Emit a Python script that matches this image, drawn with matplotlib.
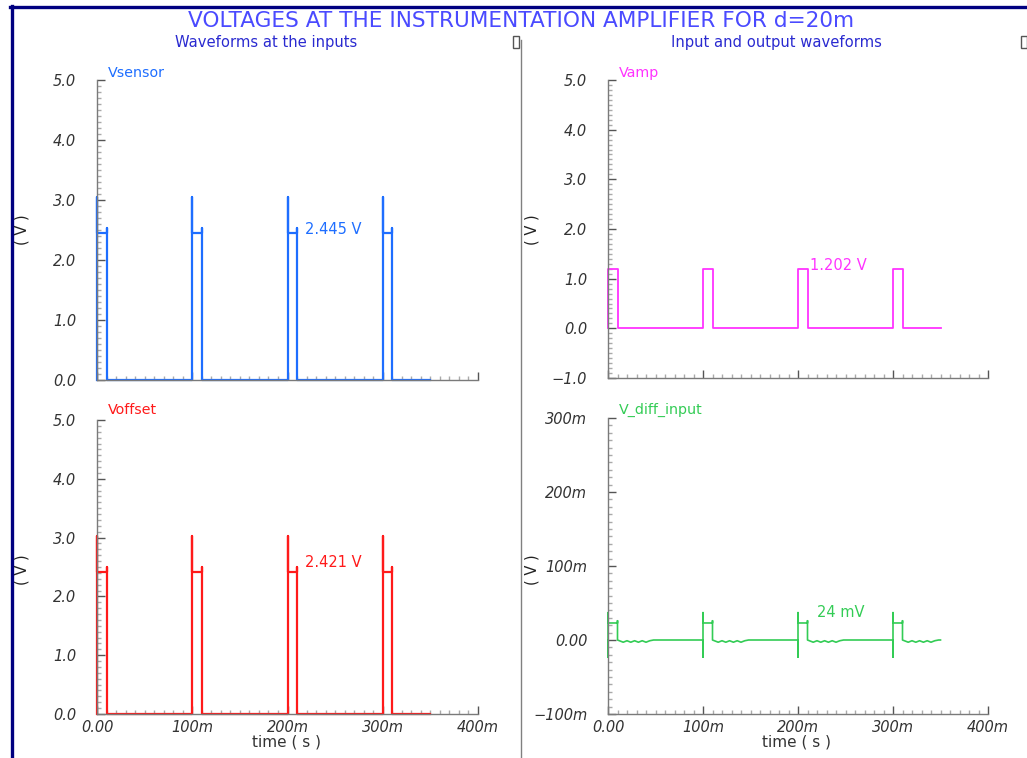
import matplotlib
matplotlib.use('Agg')
import matplotlib.pyplot as plt
from matplotlib.ticker import MultipleLocator, FixedLocator, FixedFormatter
from matplotlib.patches import Rectangle
from matplotlib.lines import Line2D

W, H = 1027, 758

# ---------------- data ----------------
pulse_starts = [0.0, 0.1, 0.2, 0.3]
pulse_width = 0.01
t_end = 0.35

vsensor_spike, vsensor_plateau, vsensor_end_spike = 3.05, 2.445, 2.53
voffset_spike, voffset_plateau, voffset_end_spike = 3.02, 2.421, 2.50
vamp_plateau = 1.202
vdiff_spike_lo, vdiff_spike_hi = -0.023, 0.037
vdiff_plateau, vdiff_end_bump = 0.023, 0.026
ripple_offsets = [0.012, 0.016, 0.020, 0.024, 0.028, 0.032, 0.036, 0.040, 0.044, 0.048]
ripple_values = [-0.001, -0.003, -0.001, -0.003, -0.001, -0.003, -0.001, -0.003, -0.001, 0.0]

x_ticks = [0.0, 0.1, 0.2, 0.3, 0.4]
x_tick_labels = ["0.00", "100m", "200m", "300m", "400m"]
v_ticks = [0, 1, 2, 3, 4, 5]
v_tick_labels = ["0.0", "1.0", "2.0", "3.0", "4.0", "5.0"]
vamp_ticks = [-1, 0, 1, 2, 3, 4, 5]
vamp_tick_labels = ["\u22121.0", "0.0", "1.0", "2.0", "3.0", "4.0", "5.0"]
vdiff_ticks = [-0.1, 0.0, 0.1, 0.2, 0.3]
vdiff_tick_labels = ["\u2212100m", "0.00", "100m", "200m", "300m"]

BLUE = '#1e6eff'
RED = '#ff1a1a'
MAGENTA = '#ff33ff'
GREEN = '#33cc55'


def input_wave(spike, plateau, end_spike):
    t, v = [], []
    for s in pulse_starts:
        e = s + pulse_width
        t += [s, s, s, e, e, e]
        v += [0, spike, plateau, plateau, end_spike, 0]
    t.append(t_end)
    v.append(0)
    return t, v


def amp_wave(plateau):
    t, v = [], []
    for s in pulse_starts:
        e = s + pulse_width
        t += [s, s, e, e]
        v += [0, plateau, plateau, 0]
    t.append(t_end)
    v.append(0)
    return t, v


def diff_wave():
    t, v = [], []
    for s in pulse_starts:
        e = s + pulse_width
        t += [s, s, s, s, e, e, e]
        v += [0, vdiff_spike_lo, vdiff_spike_hi, vdiff_plateau, vdiff_plateau, vdiff_end_bump, 0]
        t += [s + o for o in ripple_offsets]
        v += ripple_values
    t.append(t_end)
    v.append(0)
    return t, v


fig = plt.figure(figsize=(W / 100, H / 100), dpi=100)
fig.patch.set_facecolor('white')


def px(x, y):
    return x / W, 1 - y / H


def add_ax(x0, x1, ytop, ybot):
    return fig.add_axes([x0 / W, 1 - ybot / H, (x1 - x0) / W, (ybot - ytop) / H])


def style_ax(ax, yticks, ylabels, yminor, show_x):
    for sp in ['top', 'right']:
        ax.spines[sp].set_visible(False)
    for sp in ['left', 'bottom']:
        ax.spines[sp].set_color('#7a7a7a')
        ax.spines[sp].set_linewidth(1.0)
    ax.set_xlim(0, 0.4)
    ax.xaxis.set_major_locator(FixedLocator(x_ticks))
    ax.xaxis.set_minor_locator(MultipleLocator(0.01))
    ax.yaxis.set_major_locator(FixedLocator(yticks))
    ax.yaxis.set_major_formatter(FixedFormatter(ylabels))
    ax.yaxis.set_minor_locator(MultipleLocator(yminor))
    if show_x:
        ax.xaxis.set_major_formatter(FixedFormatter(x_tick_labels))
    ax.tick_params(axis='both', which='major', direction='in', length=6, width=1,
                   color='#555555', labelsize=10.5, labelcolor='#333333')
    ax.tick_params(axis='both', which='minor', direction='in', length=3, width=1,
                   color='#aaaaaa')
    ax.tick_params(axis='y', which='major', pad=15)
    ax.tick_params(axis='x', which='major', pad=4, labelbottom=show_x)
    for lab in ax.get_xticklabels() + ax.get_yticklabels():
        lab.set_fontstyle('italic')
    ax.set_facecolor('none')


# Top-left: Vsensor
ax1 = add_ax(97, 478, 80, 380)
t, v = input_wave(vsensor_spike, vsensor_plateau, vsensor_end_spike)
ax1.plot(t, v, color=BLUE, lw=1.6, clip_on=False)
ax1.set_ylim(0, 5)
style_ax(ax1, v_ticks, v_tick_labels, 0.1, False)
ax1.text(0.2184, 2.5, "2.445 V", color=BLUE, fontsize=10.5, ha='left', va='center')

# Bottom-left: Voffset
ax2 = add_ax(97, 478, 420, 714)
t, v = input_wave(voffset_spike, voffset_plateau, voffset_end_spike)
ax2.plot(t, v, color=RED, lw=1.6, clip_on=False)
ax2.set_ylim(0, 5)
style_ax(ax2, v_ticks, v_tick_labels, 0.1, True)
ax2.text(0.2184, 2.585, "2.421 V", color=RED, fontsize=10.5, ha='left', va='center')

# Top-right: Vamp
ax3 = add_ax(608, 988, 80, 378)
t, v = amp_wave(vamp_plateau)
ax3.plot(t, v, color=MAGENTA, lw=1.3, clip_on=False)
ax3.set_ylim(-1, 5)
style_ax(ax3, vamp_ticks, vamp_tick_labels, 0.1, False)
ax3.text(0.2126, 1.275, "1.202 V", color=MAGENTA, fontsize=10.5, ha='left', va='center')

# Bottom-right: V_diff_input
ax4 = add_ax(608, 988, 418, 714)
t, v = diff_wave()
ax4.plot(t, v, color=GREEN, lw=1.2, clip_on=False)
ax4.set_ylim(-0.1, 0.3)
style_ax(ax4, vdiff_ticks, vdiff_tick_labels, 0.01, True)
ax4.text(0.22, 0.0378, "24 mV", color=GREEN, fontsize=10.5, ha='left', va='center')

# series names
fig.text(*px(108, 73), "Vsensor", color=BLUE, fontsize=10.3, ha='left', va='center')
fig.text(*px(108, 410), "Voffset", color=RED, fontsize=10.3, ha='left', va='center')
fig.text(*px(619, 73), "Vamp", color=MAGENTA, fontsize=10.3, ha='left', va='center')
fig.text(*px(619, 410), "V_diff_input", color=GREEN, fontsize=10.3, ha='left', va='center')

# y labels
for (x, y) in [(22, 230), (22, 570), (532, 230), (532, 570)]:
    fig.text(*px(x, y), "( V )", rotation=90, fontsize=10.5, color='#222222',
             ha='center', va='center')

# x labels
fig.text(*px(287, 742), "time ( s )", fontsize=11, color='#333333', ha='center', va='center')
fig.text(*px(797, 742), "time ( s )", fontsize=11, color='#333333', ha='center', va='center')

# titles
fig.text(*px(521, 21), "VOLTAGES AT THE INSTRUMENTATION AMPLIFIER FOR d=20m",
         fontsize=15.6, color='#4a4aff', ha='center', va='center')
fig.text(*px(266, 43), "Waveforms at the inputs", fontsize=10.6, color='#2a2ad0',
         ha='center', va='center')
fig.text(*px(776, 43), "Input and output waveforms", fontsize=10.6, color='#2a2ad0',
         ha='center', va='center')

# frame: navy border top and left, gray divider
fig.add_artist(Line2D([10 / W, 1.0], [1 - 7 / H, 1 - 7 / H], color='#000080', lw=2.4,
                      transform=fig.transFigure))
fig.add_artist(Line2D([11.5 / W, 11.5 / W], [0, 1 - 6 / H], color='#000080', lw=2.4,
                      transform=fig.transFigure))
fig.add_artist(Line2D([521 / W, 521 / W], [0, 1 - 40 / H], color='#808080', lw=1.0,
                      transform=fig.transFigure))
for (x, y) in [(513, 36), (1021, 36)]:
    fig.add_artist(Rectangle((x / W, 1 - (y + 12) / H), 6 / W, 12 / H,
                             transform=fig.transFigure, facecolor='white',
                             edgecolor='#555555', lw=1.0))

fig.savefig('out.png', dpi=100, facecolor='white')
